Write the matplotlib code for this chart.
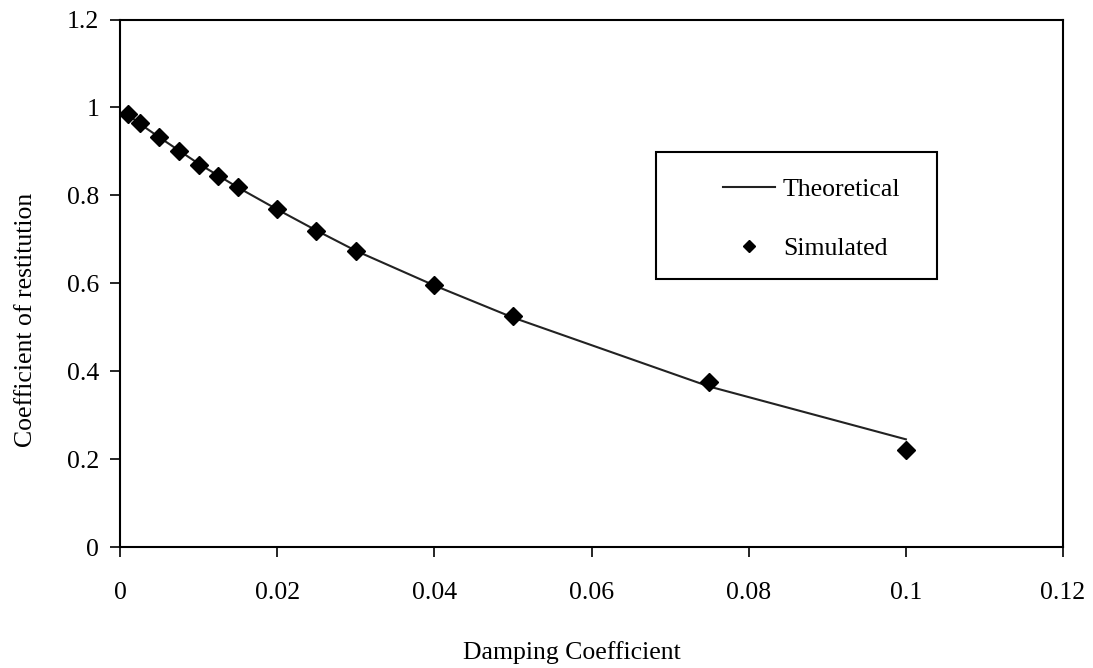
import matplotlib
matplotlib.use("Agg")
import matplotlib.pyplot as plt
from matplotlib.patches import Rectangle
from matplotlib.lines import Line2D

damping = [0.001, 0.0025, 0.005, 0.0075, 0.01, 0.0125, 0.015, 0.02, 0.025, 0.03, 0.04, 0.05, 0.075, 0.1]
theoretical = [0.984, 0.963, 0.932, 0.902, 0.872, 0.845, 0.818, 0.768, 0.720, 0.674, 0.595, 0.522, 0.365, 0.245]
simulated = [0.984, 0.964, 0.932, 0.902, 0.870, 0.845, 0.818, 0.768, 0.718, 0.673, 0.595, 0.525, 0.376, 0.221]
xticks = [0, 0.02, 0.04, 0.06, 0.08, 0.1, 0.12]
xticklabels = ["0", "0.02", "0.04", "0.06", "0.08", "0.1", "0.12"]
yticks = [0, 0.2, 0.4, 0.6, 0.8, 1.0, 1.2]
yticklabels = ["0", "0.2", "0.4", "0.6", "0.8", "1", "1.2"]

plt.rcParams['font.family'] = ['Liberation Serif', 'DejaVu Serif']
FS = 18.5

fig = plt.figure(figsize=(10.93, 6.68), dpi=100)
ax = fig.add_axes([0.1098, 0.1811, 0.8628, 0.7897])

ax.plot(damping, theoretical, color='#222222', lw=1.5, zorder=2)
ax.plot(damping, simulated, linestyle='none', marker='D', color='black', markersize=9, zorder=3)

ax.set_xlim(0, 0.12)
ax.set_ylim(0, 1.2)
ax.set_xticks(xticks)
ax.set_xticklabels(xticklabels, fontsize=FS)
ax.set_yticks(yticks)
ax.set_yticklabels(yticklabels, fontsize=FS)
ax.tick_params(direction='out', length=7, width=1.2, color='black')
ax.tick_params(axis='x', pad=18)
ax.tick_params(axis='y', pad=8)
for s in ax.spines.values():
    s.set_linewidth(1.5)
    s.set_color('black')

ax.set_xlabel("Damping Coefficient", fontsize=FS)
ax.set_ylabel("Coefficient of restitution", fontsize=FS)
ax.xaxis.set_label_coords(0.479, -0.178)
ax.yaxis.set_label_coords(-0.088, 0.43)

# legend box
ax.add_patch(Rectangle((0.568, 0.508), 0.298, 0.24, transform=ax.transAxes,
                       fill=False, edgecolor='black', lw=1.5, zorder=4))
handles = [Line2D([], [], color='#222222', lw=1.5),
           Line2D([], [], linestyle='none', marker='D', color='black', markersize=6.5)]
leg = ax.legend(handles, ["Theoretical", "Simulated"], loc='upper left',
                bbox_to_anchor=(0.639, 0.700), frameon=False, fontsize=FS,
                borderpad=0, borderaxespad=0, handlelength=2.05, handletextpad=0.3,
                labelspacing=1.42)

fig.savefig("out.png", dpi=100, facecolor='white')
